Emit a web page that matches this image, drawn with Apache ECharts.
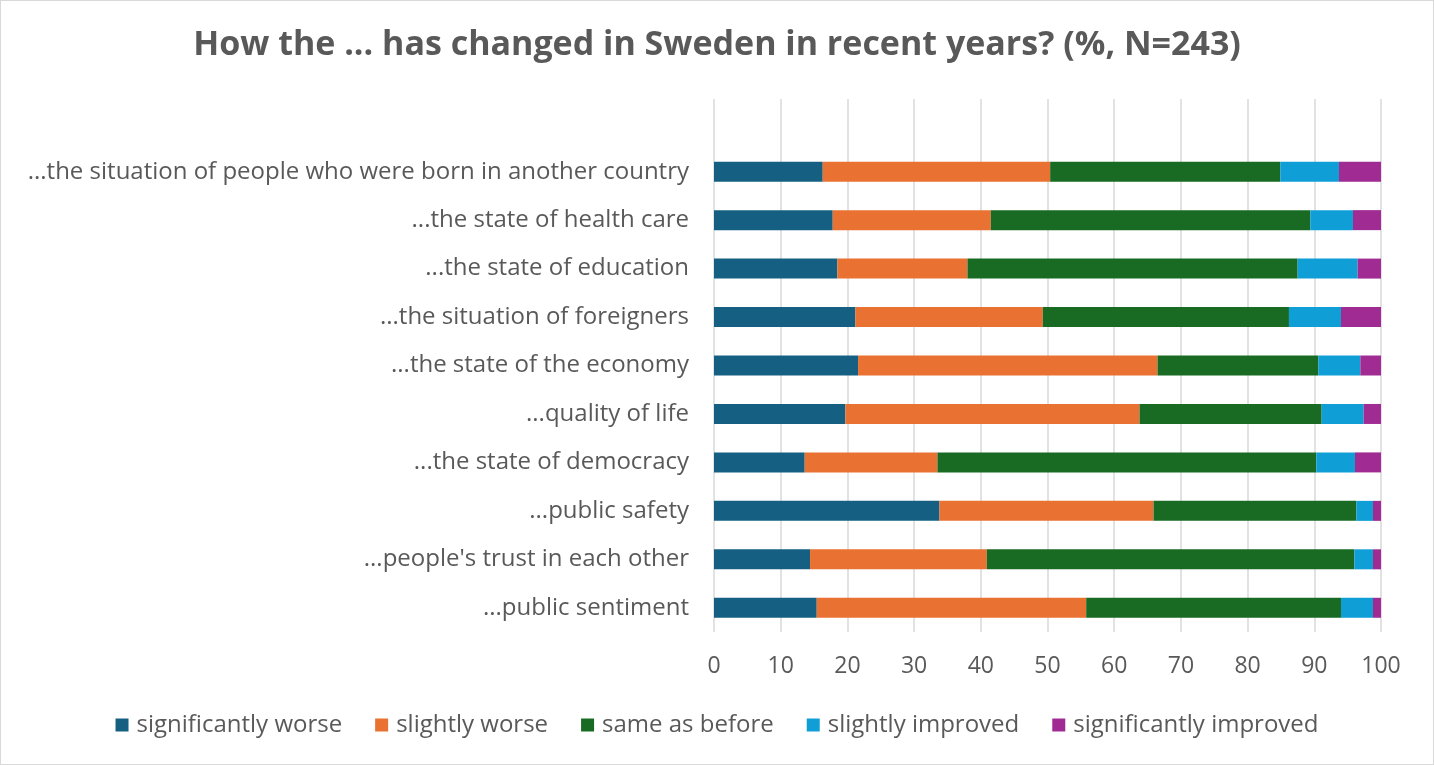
<!DOCTYPE html>
<html>
<head>
<meta charset="utf-8">
<script src="https://cdn.jsdelivr.net/npm/echarts@6/dist/echarts.min.js"></script>
<style>
html,body{margin:0;padding:0;background:#fff;}
#c{width:1434px;height:765px;box-sizing:border-box;border:1px solid #d9d9d9;}
</style>
</head>
<body>
<div id="c"></div>
<script>
const categories = [
  "...the situation of people who were born in another country",
  "...the state of health care",
  "...the state of education",
  "...the situation of foreigners",
  "...the state of the economy",
  "...quality of life",
  "...the state of democracy",
  "...public safety",
  "...people's trust in each other",
  "...public sentiment"
];
const seriesNames = ["significantly worse","slightly worse","same as before","slightly improved","significantly improved"];
const significantlyWorse   = [16.3, 17.8, 18.5, 21.2, 21.6, 19.7, 13.6, 33.8, 14.4, 15.4];
const slightlyWorse        = [34.1, 23.7, 19.5, 28.1, 44.9, 44.1, 19.9, 32.1, 26.5, 40.4];
const sameAsBefore         = [34.5, 47.9, 49.5, 36.9, 24.1, 27.3, 56.8, 30.4, 55.1, 38.2];
const slightlyImproved     = [8.8, 6.4, 9.0, 7.8, 6.3, 6.3, 5.8, 2.5, 2.8, 4.8];
const significantlyImproved= [6.3, 4.2, 3.5, 6.0, 3.1, 2.6, 3.9, 1.2, 1.2, 1.2];
const xTicks = [0,10,20,30,40,50,60,70,80,90,100];

const colors = ["#156082","#E97132","#196B24","#0F9ED5","#A02B93"];
const allValues = [significantlyWorse, slightlyWorse, sameAsBefore, slightlyImproved, significantlyImproved];
const txt = "#595959";
const font = "'Open Sans', sans-serif";

const chart = echarts.init(document.getElementById('c'));
chart.setOption({
  animation: false,
  color: colors,
  title: {
    text: "How the ... has changed in Sweden in recent years? (%, N=243)",
    left: 'center', top: 22,
    textStyle: {color: txt, fontSize: 34, fontWeight: 'bold', fontFamily: font}
  },
  legend: {
    bottom: 22, left: 'center',
    icon: 'rect', itemWidth: 13, itemHeight: 13, itemGap: 33,
    textStyle: {color: txt, fontSize: 24, fontFamily: font, padding: [0, 0, 0, 3]},
    data: seriesNames
  },
  grid: {left: 713, right: 52, top: 98, bottom: 132, containLabel: false},
  xAxis: {
    type: 'value', min: 0, max: 100, interval: 10,
    axisLine: {show: false}, axisTick: {show: false},
    axisLabel: {color: txt, fontSize: 23, fontFamily: font, margin: 23,
      formatter: v => xTicks.includes(v) ? String(v) : ''},
    splitLine: {show: true, lineStyle: {color: '#d9d9d9', width: 1.5}}
  },
  yAxis: {
    type: 'category', inverse: true,
    data: [''].concat(categories),
    axisLine: {show: false}, axisTick: {show: false},
    axisLabel: {color: txt, fontSize: 24, fontFamily: font, margin: 25}
  },
  series: seriesNames.map((n, i) => ({
    name: n, type: 'bar', stack: 'total', barWidth: 20,
    itemStyle: {color: colors[i]},
    data: [null].concat(allValues[i])
  }))
});
</script>
</body>
</html>
